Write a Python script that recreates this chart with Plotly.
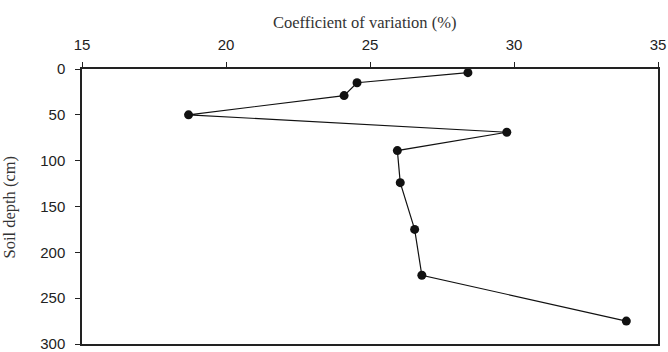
import plotly.graph_objects as go

cv_percent = [28.4, 24.55, 24.1, 18.7, 29.75, 25.95, 26.05, 26.55, 26.8, 33.9]
depth_cm = [4, 15, 29, 50, 69, 89, 124, 175, 225, 275]

x_ticks = [15, 20, 25, 30, 35]
y_ticks = [0, 50, 100, 150, 200, 250, 300]

x_title = "Coefficient of variation (%)"
y_title = "Soil depth (cm)"

fig = go.Figure()
fig.add_trace(go.Scatter(
    x=cv_percent, y=depth_cm, mode="lines+markers",
    line=dict(color="#111111", width=1.2),
    marker=dict(color="#111111", size=9),
    showlegend=False, cliponaxis=False, hoverinfo="skip",
))

axis_line = "#222222"
tick_font = dict(family="Liberation Sans, Arial", size=15, color="#222222")
title_font = dict(family="Liberation Serif, Times New Roman", size=16.5, color="#333333")

fig.update_layout(
    width=668, height=352,
    margin=dict(l=82, r=10, t=69, b=8),
    paper_bgcolor="white", plot_bgcolor="white",
    xaxis=dict(
        side="top", range=[15, 35], tickvals=x_ticks, automargin=False,
        showgrid=False, zeroline=False,
        showline=True, linecolor=axis_line, linewidth=1.5, mirror=True,
        ticks="outside", ticklen=5, tickcolor=axis_line, tickwidth=1,
        ticklabelstandoff=6, tickfont=tick_font, ticklabeloverflow="allow",
    ),
    yaxis=dict(
        range=[300, 0], tickvals=y_ticks, automargin=False,
        showgrid=False, zeroline=False,
        showline=True, linecolor=axis_line, linewidth=1.5, mirror=True,
        ticks="outside", ticklen=5, tickcolor=axis_line, tickwidth=1,
        ticklabelstandoff=7, tickfont=tick_font, ticklabeloverflow="allow",
    ),
    annotations=[
        dict(text=x_title, xref="paper", yref="paper", x=0.4896, y=1.17,
             xanchor="center", yanchor="middle", showarrow=False, font=title_font),
        dict(text=y_title, xref="paper", yref="paper", x=(9.5 - 82) / 576, y=0.498,
             xanchor="center", yanchor="middle", textangle=-90, showarrow=False, font=title_font),
    ],
)

fig.write_html("out.html", config={"displayModeBar": False},
               post_script="document.body.style.margin='0';document.body.style.overflow='hidden';")
